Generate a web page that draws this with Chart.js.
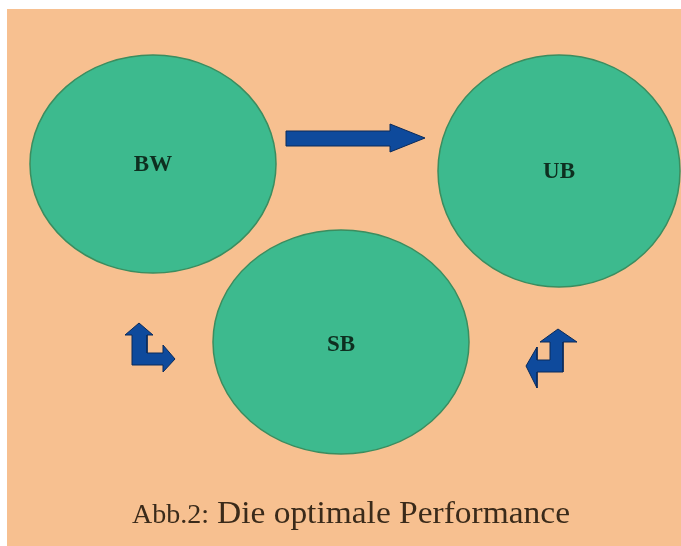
<!DOCTYPE html>
<html>
<head>
<meta charset="utf-8">
<script src="https://cdn.jsdelivr.net/npm/chart.js@4.4.1/dist/chart.umd.min.js"></script>
<style>
html,body{margin:0;padding:0;background:#ffffff;}
#wrap{width:681px;height:546px;position:relative;}
</style>
</head>
<body>
<div id="wrap"><canvas id="c"></canvas></div>
<script>
// ---- data (diagram units = pixels of the original figure) ----
const nodeLabels = ["BW", "UB", "SB"];
const nodeX = [153, 559, 341];
const nodeY = [164, 171, 342];
const nodeRx = [123, 121, 128];
const nodeRy = [109, 116, 112];
const labelY = [165, 172, 345];

// arrow outlines (polygon vertices)
const arrowRight = [[286,131],[390,131],[390,124],[425,138],[390,152],[390,146],[286,146]];
const arrowLeftBent = [[139,323],[153,335],[147,335],[147,353],[163,353],[163,345],[175,359],[163,372],[163,365],[132,365],[132,335],[125,335]];
const arrowRightBent = [[558,329],[577,342],[563,342],[563,372],[537,372],[537,388],[526,366],[537,347],[537,360],[550,360],[550,342],[540,342]];
const arrows = [arrowRight, arrowLeftBent, arrowRightBent];

const captionSmall = "Abb.2:";
const captionBig = "Die optimale Performance";
const background = {x0: 7, y0: 9, x1: 681, y1: 546};

const COL_BG = "#f7c090";
const COL_NODE = "#3dba8e";
const COL_NODE_EDGE = "#3b8d5f";
const COL_ARROW = "#0e4a9c";
const COL_ARROW_EDGE = "#0a2a5a";

const datasets = [];
datasets.push({
  type: 'scatter',
  label: 'nodes',
  data: nodeX.map((x,i)=>({x:x, y:nodeY[i], rx:nodeRx[i], ry:nodeRy[i], name:nodeLabels[i], ly:labelY[i]})),
  pointRadius: 0,
  pointHoverRadius: 0
});
arrows.forEach((a,k)=>{
  const pts = a.map(p=>({x:p[0], y:p[1]}));
  pts.push({x:a[0][0], y:a[0][1]});
  datasets.push({
    type: 'scatter',
    label: 'arrow'+k,
    data: pts,
    showLine: true,
    borderColor: COL_ARROW_EDGE,
    borderWidth: 1,
    backgroundColor: COL_ARROW,
    pointRadius: 0,
    pointHoverRadius: 0,
    tension: 0,
    fill: false
  });
});

const diagramPlugin = {
  id: 'diagram',
  beforeDraw(chart){
    const {ctx, scales:{x, y}} = chart;
    ctx.save();
    ctx.fillStyle = COL_BG;
    const X0 = x.getPixelForValue(background.x0), X1 = x.getPixelForValue(background.x1);
    const Y0 = y.getPixelForValue(background.y0), Y1 = y.getPixelForValue(background.y1);
    ctx.fillRect(X0, Y0, X1-X0, Y1-Y0);
    ctx.restore();
  },
  beforeDatasetsDraw(chart){
    const {ctx, scales:{x, y}} = chart;
    const meta = chart.getDatasetMeta(0);
    ctx.save();
    meta.data.forEach((el, i)=>{
      const d = chart.data.datasets[0].data[i];
      const rx = Math.abs(x.getPixelForValue(d.x + d.rx) - el.x);
      const ry = Math.abs(y.getPixelForValue(d.y + d.ry) - el.y);
      ctx.beginPath();
      ctx.ellipse(el.x, el.y, rx, ry, 0, 0, Math.PI*2);
      ctx.fillStyle = COL_NODE;
      ctx.fill();
      ctx.lineWidth = 1.5;
      ctx.strokeStyle = COL_NODE_EDGE;
      ctx.stroke();
      ctx.fillStyle = "#0e2f20";
      ctx.font = "bold 23px 'Liberation Serif', serif";
      ctx.textAlign = "center";
      ctx.textBaseline = "middle";
      ctx.fillText(d.name, el.x, y.getPixelForValue(d.ly));
    });
    for (let k = 1; k < chart.data.datasets.length; k++){
      const m = chart.getDatasetMeta(k);
      ctx.beginPath();
      m.data.forEach((el, i)=>{ if(i===0) ctx.moveTo(el.x, el.y); else ctx.lineTo(el.x, el.y); });
      ctx.closePath();
      ctx.fillStyle = COL_ARROW;
      ctx.fill();
    }
    ctx.restore();
  },
  afterDraw(chart){
    const {ctx, scales:{x, y}} = chart;
    ctx.save();
    ctx.fillStyle = "#3a2a1a";
    ctx.textBaseline = "alphabetic";
    ctx.textAlign = "left";
    const by = y.getPixelForValue(523);
    ctx.font = "28px 'Liberation Serif', serif";
    const bx = x.getPixelForValue(132);
    const ws = ctx.measureText(captionSmall).width;
    const ts = x.getPixelForValue(209) - bx;
    ctx.save();
    ctx.translate(bx, by);
    ctx.scale(ts / ws, 1);
    ctx.fillText(captionSmall, 0, 0);
    ctx.restore();
    ctx.font = "32px 'Liberation Serif', serif";
    const sx = x.getPixelForValue(217);
    const w = ctx.measureText(captionBig).width;
    const target = x.getPixelForValue(570) - sx;
    ctx.translate(sx, by);
    ctx.scale(target / w, 1);
    ctx.fillText(captionBig, 0, 0);
    ctx.restore();
  }
};

new Chart(document.getElementById('c'), {
  data: { datasets },
  options: {
    responsive: true,
    maintainAspectRatio: false,
    animation: false,
    events: [],
    layout: { padding: 0 },
    plugins: { legend: { display: false }, tooltip: { enabled: false }, title: { display: false } },
    scales: {
      x: { type: 'linear', min: 0, max: 681, display: false },
      y: { type: 'linear', min: 0, max: 546, reverse: true, display: false }
    }
  },
  plugins: [diagramPlugin]
});
</script>
</body>
</html>
